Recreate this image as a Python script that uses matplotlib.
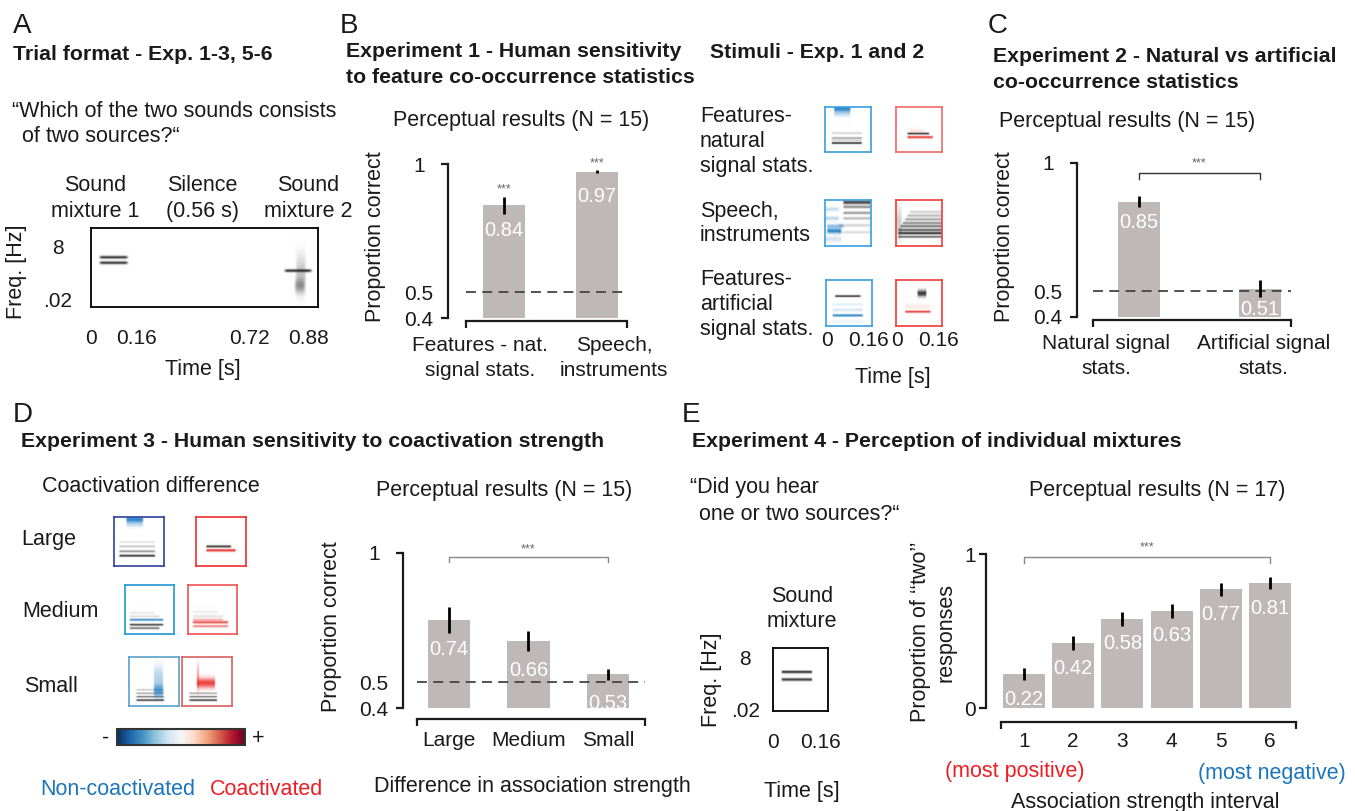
import numpy as np
import matplotlib
matplotlib.use('Agg')
import matplotlib.pyplot as plt
from matplotlib.colors import to_rgb
from matplotlib.colorbar import ColorbarBase

plt.rcParams['font.family'] = ['Liberation Sans', 'DejaVu Sans']

INK = '#1a1a1a'
BAR = '#bfb8b8'
BLUE = '#1b75bc'
RED = '#ee1c25'

# ---- bar chart data ----
exp1_cats = ['Features - nat.\nsignal stats.', 'Speech,\ninstruments']
exp1_vals = [0.84, 0.97]
exp1_errs = [0.033, 0.006]

exp2_cats = ['Natural signal\nstats.', 'Artificial signal\nstats.']
exp2_vals = [0.85, 0.51]
exp2_errs = [0.02, 0.033]

exp3_cats = ['Large', 'Medium', 'Small']
exp3_vals = [0.74, 0.66, 0.53]
exp3_errs = [0.05, 0.04, 0.02]

exp4_cats = ['1', '2', '3', '4', '5', '6']
exp4_vals = [0.22, 0.42, 0.58, 0.63, 0.77, 0.81]
exp4_errs = [0.04, 0.045, 0.045, 0.045, 0.04, 0.04]

# ---- schematic spectrograms: (t0, t1, freq, bandwidth, colour, strength) ----
trial_spec = [(0.04, 0.16, 0.63, 0.012, 'k', 0.9), (0.04, 0.16, 0.56, 0.012, 'k', 0.9),
              (0.855, 0.97, 0.46, 0.012, 'k', 0.95), (0.905, 0.945, 0.42, 0.16, 'k', 0.25),
              (0.90, 0.94, 0.27, 0.06, 'k', 0.4)]
trial_ticks = ['0', '0.16', '0.72', '0.88']
mixture_spec = [(0.16, 0.71, 0.62, 0.015, 'k', 0.9), (0.16, 0.71, 0.50, 0.015, 'k', 0.9)]

stim_nat_blue = [(0.2, 0.55, 0.96, 0.05, 'b', 0.9), (0.2, 0.55, 0.86, 0.05, 'b', 0.25),
                 (0.15, 0.8, 0.2, 0.015, 'k', 0.95), (0.15, 0.8, 0.31, 0.015, 'k', 0.4),
                 (0.15, 0.8, 0.42, 0.015, 'k', 0.2), (0.15, 0.8, 0.26, 0.012, 'k', 0.2)]
stim_nat_red = [(0.25, 0.72, 0.41, 0.015, 'k', 0.9), (0.25, 0.8, 0.33, 0.018, 'r', 0.95),
                (0.3, 0.6, 0.48, 0.02, 'r', 0.15)]
stim_speech_blue = [(0.05, 0.35, 0.33, 0.04, 'b', 0.9), (0.05, 0.4, 0.43, 0.03, 'b', 0.5),
                    (0.0, 0.3, 0.6, 0.03, 'b', 0.3), (0.0, 0.3, 0.8, 0.03, 'b', 0.25),
                    (0.0, 0.35, 0.15, 0.04, 'b', 0.2),
                    (0.4, 1.0, 0.95, 0.03, 'k', 0.8), (0.4, 1.0, 0.85, 0.02, 'k', 0.5),
                    (0.4, 1.0, 0.72, 0.02, 'k', 0.45), (0.4, 1.0, 0.6, 0.02, 'k', 0.3),
                    (0.3, 1.0, 0.45, 0.02, 'k', 0.2), (0.3, 1.0, 0.3, 0.02, 'k', 0.15)]
stim_speech_red = [(0.05, 1.0, 0.2, 0.015, 'k', 0.7), (0.05, 1.0, 0.28, 0.02, 'k', 0.9),
                   (0.05, 1.0, 0.35, 0.02, 'k', 0.7), (0.1, 1.0, 0.43, 0.02, 'k', 0.6),
                   (0.15, 1.0, 0.5, 0.02, 'k', 0.5), (0.2, 1.0, 0.58, 0.02, 'k', 0.4),
                   (0.25, 1.0, 0.66, 0.02, 'k', 0.3), (0.3, 1.0, 0.74, 0.02, 'k', 0.2),
                   (0.0, 0.12, 0.5, 0.25, 'k', 0.2)]
stim_art_blue = [(0.2, 0.75, 0.65, 0.015, 'k', 0.9), (0.15, 0.8, 0.23, 0.018, 'b', 0.95),
                 (0.15, 0.8, 0.35, 0.02, 'b', 0.2), (0.15, 0.8, 0.47, 0.02, 'b', 0.12),
                 (0.15, 0.8, 0.1, 0.02, 'b', 0.1)]
stim_art_red = [(0.47, 0.66, 0.71, 0.05, 'k', 0.85), (0.2, 0.75, 0.31, 0.015, 'r', 0.95),
                (0.2, 0.75, 0.42, 0.04, 'r', 0.1)]

coact_large_blue = [(0.25, 0.58, 0.95, 0.05, 'b', 0.9), (0.25, 0.58, 0.85, 0.04, 'b', 0.2),
                    (0.11, 0.82, 0.21, 0.015, 'k', 0.9), (0.11, 0.82, 0.3, 0.015, 'k', 0.45),
                    (0.11, 0.82, 0.4, 0.015, 'k', 0.25), (0.11, 0.82, 0.49, 0.015, 'k', 0.12)]
coact_large_red = [(0.21, 0.7, 0.4, 0.015, 'k', 0.9), (0.21, 0.79, 0.32, 0.018, 'r', 0.95)]
coact_med_blue = [(0.1, 0.78, 0.29, 0.015, 'b', 0.9), (0.1, 0.78, 0.19, 0.015, 'k', 0.8),
                  (0.1, 0.7, 0.12, 0.015, 'k', 0.6), (0.1, 0.7, 0.36, 0.015, 'k', 0.15),
                  (0.1, 0.6, 0.43, 0.015, 'k', 0.1)]
coact_med_red = [(0.1, 0.8, 0.24, 0.018, 'r', 0.8), (0.1, 0.8, 0.16, 0.015, 'r', 0.6),
                 (0.1, 0.7, 0.29, 0.015, 'r', 0.4), (0.1, 0.7, 0.36, 0.02, 'k', 0.12),
                 (0.1, 0.6, 0.45, 0.02, 'k', 0.08)]
coact_small_blue = [(0.15, 0.7, 0.12, 0.012, 'k', 0.9), (0.15, 0.7, 0.19, 0.012, 'k', 0.6),
                    (0.15, 0.7, 0.26, 0.012, 'k', 0.4), (0.15, 0.7, 0.33, 0.012, 'k', 0.25),
                    (0.5, 0.68, 0.32, 0.1, 'b', 0.75), (0.5, 0.68, 0.6, 0.15, 'b', 0.3)]
coact_small_red = [(0.15, 0.7, 0.12, 0.012, 'k', 0.9), (0.15, 0.7, 0.19, 0.012, 'k', 0.6),
                   (0.15, 0.7, 0.26, 0.012, 'k', 0.4), (0.3, 0.66, 0.47, 0.07, 'r', 0.85),
                   (0.3, 0.34, 0.6, 0.18, 'r', 0.45)]

COLS = {'k': '#151515', 'b': '#1a7ac4', 'r': '#e8231f'}

W, H = 1355, 811
fig = plt.figure(figsize=(W / 100, H / 100), dpi=100)


def px_axes(x0, y0, x1, y1):
    return fig.add_axes([x0 / W, 1 - y1 / H, (x1 - x0) / W, (y1 - y0) / H])


def put(x, y, s, size=15.5, **kw):
    kw.setdefault('color', INK)
    kw.setdefault('va', 'baseline')
    fig.text(x / W, 1 - y / H, s, fontsize=size, **kw)


def put_lines(x, y, lines, dy, **kw):
    for i, s in enumerate(lines):
        put(x, y + i * dy, s, **kw)


def spec_image(strokes, nf=60, nt=60, ramp=0.03):
    t = (np.arange(nt) + 0.5) / nt
    f = ((np.arange(nf) + 0.5) / nf)[:, None]
    img = np.ones((nf, nt, 3))
    for t0, t1, f0, bw, c, a in strokes:
        env = np.clip(np.minimum(t - t0, t1 - t) / ramp + 0.5, 0, 1)
        m = (a * np.exp(-0.5 * ((f - f0) / bw) ** 2) * env)[..., None]
        img = img * (1 - m) + np.array(to_rgb(COLS[c])) * m
    return img


def spec_axes(box, strokes, edge, lw=1.2, xlim=(0, 1), **kw):
    ax = px_axes(*box)
    ax.imshow(spec_image(strokes, **kw), origin='lower', aspect='auto',
              extent=(xlim[0], xlim[1], 0, 1), interpolation='bilinear')
    ax.set_xlim(*xlim)
    ax.set_ylim(0, 1)
    ax.set_xticks([])
    ax.set_yticks([])
    for s in ax.spines.values():
        s.set_color(edge)
        s.set_linewidth(lw)
    ax.tick_params(length=0, labelsize=15, labelcolor=INK)
    return ax


def bar_axes(box, xs, vals, errs, width, xlim, ylim, yticks, ytlabels,
             off_left, off_bottom, ypad, xlab_pos, xlabels, xpad, val_off=18):
    ax = px_axes(*box)
    ax.patch.set_alpha(0)
    ax.bar(xs, vals, width, color=BAR, zorder=1)
    ax.vlines(xs, np.subtract(vals, errs), np.add(vals, errs), color='black', lw=2, zorder=3)
    for x, v in zip(xs, vals):
        ax.annotate(f'{v:.2f}', (x, v), xytext=(0, -val_off), textcoords='offset points',
                    ha='center', va='center', color='white', fontsize=14.5, zorder=4)
    ax.set_xlim(*xlim)
    ax.set_ylim(*ylim)
    for side in ('top', 'right'):
        ax.spines[side].set_visible(False)
    ax.spines['left'].set_position(('outward', off_left))
    ax.spines['bottom'].set_position(('outward', off_bottom))
    ax.spines['left'].set_bounds(*ylim)
    for side in ('left', 'bottom'):
        ax.spines[side].set_linewidth(1.6)
        ax.spines[side].set_color(INK)
    ax.xaxis.remove_overlapping_locs = False
    ax.yaxis.remove_overlapping_locs = False
    ax.set_yticks(yticks, ytlabels)
    ax.set_yticks(ylim, minor=True)
    ax.set_xticks(xlab_pos, xlabels)
    ax.set_xticks(xlim, minor=True)
    ax.tick_params(which='major', length=0, labelsize=15, labelcolor=INK)
    ax.tick_params(axis='y', which='major', pad=ypad)
    ax.tick_params(axis='x', which='major', pad=xpad)
    ax.tick_params(which='minor', length=5, width=1.6, color=INK)
    for lab in ax.get_yticklabels():
        lab.set_horizontalalignment('center')
    for lab in ax.get_xticklabels():
        lab.set_linespacing(1.38)
    return ax


def stars(ax, x, y, dy=3):
    ax.annotate('***', (x, y), xytext=(0, dy), textcoords='offset points',
                ha='center', va='baseline', fontsize=9, color='#666666')


def bracket(ax, x0, x1, y, drop, star_y, color='#888888'):
    ax.plot([x0, x0, x1, x1], [y - drop, y, y, y - drop], color=color, lw=1, clip_on=False)
    ax.text((x0 + x1) / 2, star_y, '***', ha='center', va='center', fontsize=9, color='#666666')


def chance(ax):
    ax.axhline(0.5, color='#444444', lw=1.3, dashes=(5.5, 3.5), zorder=2)


# ================= A =================
put(13, 33, 'A', size=20)
put(13, 60, 'Trial format - Exp. 1-3, 5-6', size=15.3, weight='bold')
put(12, 117, '“Which of the two sounds consists')
put(22, 142, 'of two sources?“')
for cx, lines in zip([95, 202, 308], [['Sound', 'mixture 1'], ['Silence', '(0.56 s)'],
                                      ['Sound', 'mixture 2']]):
    put_lines(cx, 191, lines, 26, ha='center')
axA = spec_axes((91, 228, 318, 307), trial_spec, 'black', lw=1.3, nt=240, nf=80, ramp=0.015)
axA.set_xticks([0.0, 0.2, 0.7, 0.956], trial_ticks)
axA.set_yticks([0.09, 0.77], ['.02', '8'])
axA.tick_params(axis='x', pad=15.5)
axA.tick_params(axis='y', pad=24)
for lab in axA.get_yticklabels():
    lab.set_horizontalalignment('center')
put(203, 375, 'Time [s]', ha='center')
put(17, 272, 'Freq. [Hz]', rotation=90, ha='center', va='center')

# ================= B =================
put(340, 33, 'B', size=20)
put_lines(346, 57, ['Experiment 1 - Human sensitivity', 'to feature co-occurrence statistics'], 26,
          size=15.3, weight='bold')
put(521, 126, 'Perceptual results (N = 15)', ha='center')
xB = np.arange(len(exp1_vals))
axB = bar_axes((466, 164, 627, 318), xB, exp1_vals, exp1_errs, 0.45, (-0.41, 1.32), (0.4, 1.0),
               [0.4, 0.5, 1.0], ['0.4', '0.5', '1'], 13, 2.2, 21, [-0.26, 1.18], exp1_cats, 11)
chance(axB)
for x, v, e in zip(xB, exp1_vals, exp1_errs):
    stars(axB, x, v + e)
put(375, 237, 'Proportion correct', rotation=90, ha='center', va='center')

# stimuli
put(710, 58, 'Stimuli - Exp. 1 and 2', size=15.3, weight='bold')
put_lines(700, 122, ['Features-', 'natural', 'signal stats.'], 25)
put_lines(700, 217, ['Speech,', 'instruments'], 24)
put_lines(700, 285, ['Features-', 'artificial', 'signal stats.'], 25)
thumb_x = (-0.005, 0.175)
spec_axes((825, 107, 871, 152), stim_nat_blue, '#3a9ee0', xlim=thumb_x)
spec_axes((896, 107, 942, 152), stim_nat_red, '#f06a6a', xlim=thumb_x)
spec_axes((825, 200, 871, 246), stim_speech_blue, '#3a9ee0', xlim=thumb_x)
spec_axes((896, 200, 942, 246), stim_speech_red, '#ef3b3b', xlim=thumb_x)
for box, strokes, edge in [((826, 280, 872, 326), stim_art_blue, '#3a9ee0'),
                           ((896, 280, 942, 326), stim_art_red, '#ef3b3b')]:
    ax = spec_axes(box, strokes, edge, xlim=thumb_x)
    ax.set_xticks([0, 0.16], ['0', '0.16'])
    ax.tick_params(axis='x', pad=3.5)
put(893, 383, 'Time [s]', ha='center')

# ================= C =================
put(988, 33, 'C', size=20)
put_lines(993, 62, ['Experiment 2 - Natural vs artificial', 'co-occurrence statistics'], 26,
          size=15.3, weight='bold')
put(1127, 127, 'Perceptual results (N = 15)', ha='center')
xC = np.arange(len(exp2_vals))
axC = bar_axes((1093, 163, 1291, 317), xC, exp2_vals, exp2_errs, 0.347, (-0.38, 1.256), (0.4, 1.0),
               [0.4, 0.5, 1.0], ['0.4', '0.5', '1'], 11.5, 2.2, 21, [-0.27, 1.03], exp2_cats, 10,
               val_off=15)
chance(axC)
bracket(axC, xC[0], xC[-1], 0.961, 0.023, 1.0, color='#333333')
put(1005, 237, 'Proportion correct', rotation=90, ha='center', va='center')

# ================= D =================
put(13, 422, 'D', size=20)
put(21, 447, 'Experiment 3 - Human sensitivity to coactivation strength', size=15.3, weight='bold')
put(42, 492, 'Coactivation difference')
put(21, 545, 'Large')
put(22, 617, 'Medium')
put(24, 692, 'Small')
spec_axes((114, 517, 164, 566), coact_large_blue, '#2d3f9e')
spec_axes((196, 517, 246, 566), coact_large_red, '#ee2d2d')
spec_axes((125, 585, 174, 634), coact_med_blue, '#2196d3')
spec_axes((188, 585, 237, 634), coact_med_red, '#f05050')
spec_axes((129, 657, 179, 706), coact_small_blue, '#5aa0c8')
spec_axes((182, 657, 232, 706), coact_small_red, '#d96060')
cax = px_axes(117, 729, 245, 745)
cb = ColorbarBase(cax, cmap='RdBu_r', orientation='horizontal', ticks=[])
cb.outline.set_linewidth(1.5)
cb.outline.set_edgecolor('#333333')
put(106, 738, '-', ha='center', va='center')
put(258, 738, '+', ha='center', va='center')
put(40, 795, 'Non-coactivated', color=BLUE)
put(210, 795, 'Coactivated', color=RED)

put(504, 496, 'Perceptual results (N = 15)', ha='center')
xD = np.arange(len(exp3_vals))
axD = bar_axes((417, 553, 645, 708), xD, exp3_vals, exp3_errs, 0.53, (-0.40, 2.465), (0.4, 1.0),
               [0.4, 0.5, 1.0], ['0.4', '0.5', '1'], 10, 8, 21, xD, exp3_cats, 8.6, val_off=21)
chance(axD)
bracket(axD, xD[0], xD[-1], 0.985, 0.019, 1.015)
put(332, 627, 'Proportion correct', rotation=90, ha='center', va='center')
put(532, 792, 'Difference in association strength', ha='center')

# ================= E =================
put(682, 422, 'E', size=20)
put(692, 447, 'Experiment 4 - Perception of individual mixtures', size=15.3, weight='bold')
put(690, 493, '“Did you hear')
put(699, 520, 'one or two sources?“')
put_lines(802, 602, ['Sound', 'mixture'], 25, ha='center')
axM = spec_axes((773, 648, 828, 711), mixture_spec, 'black', lw=1.3, xlim=(0.0, 0.185))
axM.set_xticks([0, 0.16], ['0', '0.16'])
axM.set_yticks([0.016, 0.857], ['.02', '8'])
axM.tick_params(axis='x', pad=16)
axM.tick_params(axis='y', pad=20)
for lab in axM.get_yticklabels():
    lab.set_horizontalalignment('center')
put(802, 797, 'Time [s]', ha='center')
put(712, 680, 'Freq. [Hz]', rotation=90, ha='center', va='center')

put(1157, 496, 'Perceptual results (N = 17)', ha='center')
xE = np.arange(1, len(exp4_vals) + 1)
axE = bar_axes((1001, 554, 1296, 708), xE, exp4_vals, exp4_errs, 0.854, (0.533, 6.53), (0.0, 1.0),
               [0.0, 1.0], ['0', '1'], 11, 10, 11.5, xE, exp4_cats, 7)
bracket(axE, xE[0], xE[-1], 0.98, 0.04, 1.04)
put(933, 632, 'Proportion of ‘‘two’’\nresponses', rotation=90, ha='center', va='center',
    linespacing=1.3)
put(1015, 777, '(most positive)', color=RED, ha='center')
put(1272, 779, '(most negative)', color=BLUE, ha='center')
put(1145, 808, 'Association strength interval', ha='center')

fig.savefig('out.png', dpi=100, facecolor='white')
